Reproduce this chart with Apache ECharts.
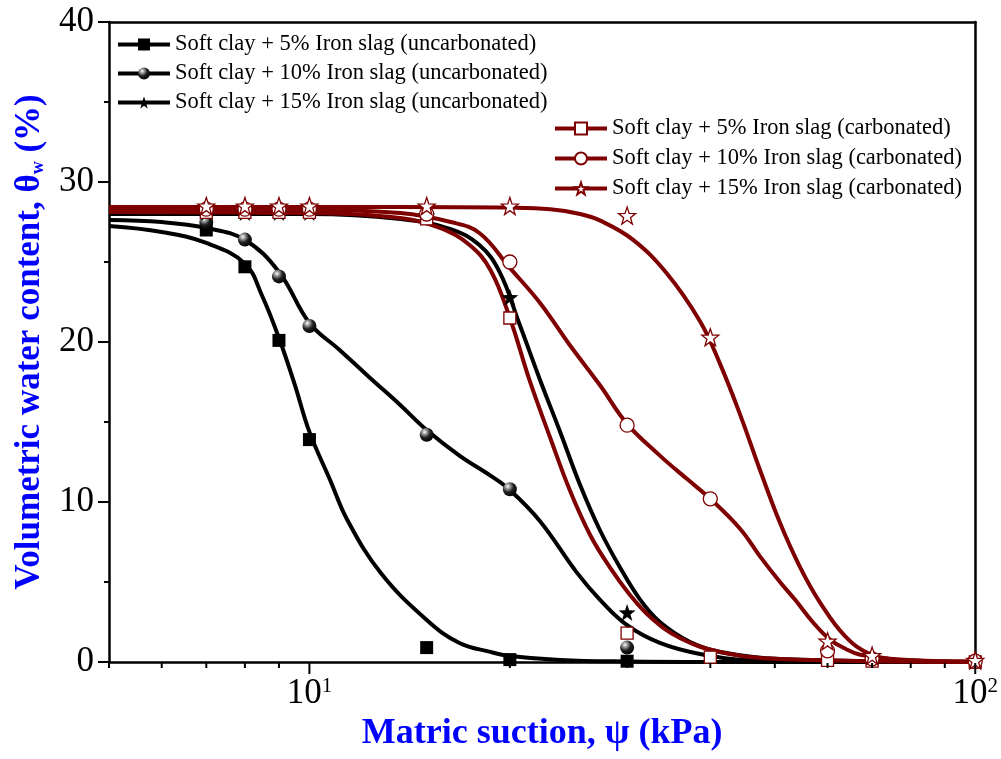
<!DOCTYPE html>
<html><head><meta charset="utf-8">
<script src="https://cdn.jsdelivr.net/npm/echarts@6/dist/echarts.min.js"></script>
<style>html,body{margin:0;padding:0;background:#fff}#c{width:1001px;height:759px}</style>
</head><body><div id="c"></div>
<script>
// ---- names ----
const seriesNames = [
  'Soft clay + 5% Iron slag (uncarbonated)',
  'Soft clay + 10% Iron slag (uncarbonated)',
  'Soft clay + 15% Iron slag (uncarbonated)',
  'Soft clay + 5% Iron slag (carbonated)',
  'Soft clay + 10% Iron slag (carbonated)',
  'Soft clay + 15% Iron slag (carbonated)'
];
// ---- measured points [suction kPa, water content %] ----
const sq5uPoints = [[7,27.0],[8,24.7],[9,20.1],[10,13.9],[15,0.9],[20,0.15],[30,0.05]];
const sp10uPoints = [[7,27.5],[8,26.4],[9,24.1],[10,21.0],[15,14.2],[20,10.8],[30,0.9]];
const st15uPoints = [[7,28.1],[8,28.1],[9,28.1],[10,28.1],[15,27.9],[20,22.8],[30,3.1]];
const sq5cPoints = [[7,28.1],[8,28.1],[9,28.1],[10,28.1],[15,27.7],[20,21.5],[30,1.8],[40,0.3],[60,0.1],[70,0.05],[100,0.0]];
const ci10cPoints = [[7,28.3],[8,28.3],[9,28.3],[10,28.3],[15,28.0],[20,25.0],[30,14.8],[40,10.2],[60,0.7],[70,0.2],[100,0.05]];
const st15cPoints = [[7,28.5],[8,28.5],[9,28.5],[10,28.5],[15,28.5],[20,28.5],[30,27.9],[40,20.3],[60,1.3],[70,0.4],[100,0.1]];
// ---- fitted curves ----
const sq5uCurve = [[5,27.25],[6,26.88],[7,26.19],[8,24.9],[8.48,22.94],[9,20.25],[9.51,17.31],[10,14.38],[10.74,11.38],[11.4,8.88],[12.8,5.56],[15,2.63],[16.8,1.19],[18.7,0.63],[20,0.38],[23.8,0.13],[30,0.03],[40,0],[100,0]];
const sp10uCurve = [[5,27.63],[6,27.5],[7,27.13],[8,26.38],[9,24.38],[10,21.19],[11.1,19.5],[12.3,17.8],[13.7,16.05],[15,14.5],[16.8,12.9],[18.7,11.65],[20,10.75],[22.2,8.8],[25.2,5.6],[27.3,3.9],[30,2.3],[33.6,1.19],[38.6,0.5],[45.9,0.13],[100,0]];
const st15uCurve = [[5,28.0],[10,28.0],[13.7,27.69],[16.3,27.06],[18.0,26.06],[19.3,24.38],[20.7,21.06],[22.2,17.63],[23.8,14.38],[25.5,11.06],[27.3,8.25],[29.3,5.88],[31.4,3.88],[33.6,2.5],[37.3,1.25],[41.4,0.63],[50.9,0.19],[100,0]];
const sq5cCurve = [[5,28.13],[10,28.06],[13.7,27.75],[15.7,27.13],[17.4,26.06],[18.7,24.5],[20,21.5],[21.4,17.63],[23,14.0],[24.6,10.75],[26.4,7.94],[28.3,5.88],[30.3,4.19],[32.5,2.81],[36,1.5],[41.4,0.63],[50.9,0.19],[100,0]];
const ci10cCurve = [[5,28.25],[10,28.25],[13.7,28.06],[16.3,27.5],[18,26.81],[20,24.63],[22.2,22.44],[24.6,19.81],[27.3,17.31],[30,14.88],[33.6,12.9],[37,11.4],[40,10.2],[44.4,8.3],[47.5,6.6],[50.9,5.0],[53.6,3.9],[57,2.5],[60.5,1.4],[64,0.8],[67.2,0.45],[77.2,0.13],[100,0.03]];
const st15cCurve = [[5,28.44],[13.7,28.44],[20,28.4],[23,28.3],[25.5,28.0],[27.3,27.6],[30.6,26.4],[34.4,24.3],[38.6,21.3],[41.4,18.6],[44.4,15.4],[47.5,12.0],[50.9,8.7],[54.6,5.9],[58.5,3.7],[63.8,1.6],[69.5,0.5],[77.2,0.15],[100,0.03]];
// ---- axis ticks ----
const xMajorTicks = [10, 100];
const xMajorExponents = ['1', '2'];
const xMinorTicks = [5, 6, 7, 8, 9, 20, 30, 40, 50, 60, 70, 80, 90];

const FONT = '"Liberation Serif","Times New Roman",serif';
const BLACK = '#000000';
const RED = '#7f0000';
const STAR = 'path://M0,-10 L2.35,-3.24 L9.51,-3.09 L3.8,1.24 L5.88,8.09 L0,4 L-5.88,8.09 L-3.8,1.24 L-9.51,-3.09 L-2.35,-3.24 Z';

const sphere = new echarts.graphic.RadialGradient(0.35, 0.3, 0.75, [
  {offset: 0, color: '#ffffff'}, {offset: 0.22, color: '#a0a0a0'},
  {offset: 0.55, color: '#202020'}, {offset: 1, color: '#000000'}]);

const styles = [
  {symbol: 'rect', size: 13, item: {color: BLACK, opacity: 1}, line: BLACK},
  {symbol: 'circle', size: 14, item: {color: sphere, opacity: 1}, line: BLACK},
  {symbol: STAR, size: 17, item: {color: BLACK, opacity: 1}, line: BLACK},
  {symbol: 'rect', size: 12, item: {color: '#ffffff', borderColor: RED, borderWidth: 1.3, opacity: 1}, line: RED},
  {symbol: 'circle', size: 14, item: {color: '#ffffff', borderColor: RED, borderWidth: 1.3, opacity: 1}, line: RED},
  {symbol: STAR, size: 17, item: {color: '#ffffff', borderColor: RED, borderWidth: 1.3, opacity: 1}, line: RED}
];
const curves = [sq5uCurve, sp10uCurve, st15uCurve, sq5cCurve, ci10cCurve, st15cCurve];
const points = [sq5uPoints, sp10uPoints, st15uPoints, sq5cPoints, ci10cPoints, st15cPoints];

const series = [];
curves.forEach((c, i) => {
  const s = styles[i];
  series.push({
    type: 'line', name: seriesNames[i], data: c, smooth: 0.4,
    showSymbol: false, symbol: s.symbol, symbolSize: s.size, itemStyle: s.item,
    lineStyle: {color: s.line, width: 4}, z: 2, silent: true, animation: false
  });
});
points.forEach((p, i) => {
  const s = styles[i];
  series.push({
    type: 'scatter', name: seriesNames[i], data: p, symbol: s.symbol, symbolSize: s.size,
    itemStyle: s.item, z: 3, silent: true, animation: false
  });
});
// x-axis ticks on the log axis
series.push({type: 'scatter', data: xMinorTicks.map(v => [v, 0]), symbol: 'rect', symbolSize: [2, 5],
  symbolOffset: [0, 3.5], itemStyle: {color: BLACK, opacity: 1}, silent: true, z: 6, clip: false, animation: false});
series.push({type: 'scatter', data: xMajorTicks.map(v => [v, 0]), symbol: 'rect', symbolSize: [2, 11],
  symbolOffset: [0, 6.5], itemStyle: {color: BLACK, opacity: 1}, silent: true, z: 6, clip: false, animation: false});

const legendText = {fontFamily: FONT, fontSize: 22.5, color: '#000'};
const legendData = names => names.map(n => {
  const i = seriesNames.indexOf(n);
  return {name: n, lineStyle: {color: styles[i].line, width: 4}};
});
const chart = echarts.init(document.getElementById('c'), null, {renderer: 'canvas'});
chart.setOption({
  animation: false,
  backgroundColor: '#ffffff',
  grid: {left: 109, right: 25, top: 22, bottom: 97, containLabel: false},
  legend: [
    {data: legendData(seriesNames.slice(0, 3)), left: 116, top: 33, orient: 'vertical', padding: 0,
     itemWidth: 52, itemHeight: 15, itemGap: 6, textStyle: legendText, selectedMode: false,
     lineStyle: {width: 4}},
    {data: legendData(seriesNames.slice(3)), left: 553, top: 117, orient: 'vertical', padding: 0,
     itemWidth: 52, itemHeight: 15, itemGap: 7, textStyle: legendText, selectedMode: false,
     lineStyle: {width: 4}}
  ],
  xAxis: [{
    type: 'log', logBase: 10, min: 5, max: 100,
    axisLine: {show: true, onZero: false, lineStyle: {color: BLACK, width: 2.5}},
    axisTick: {show: false}, minorTick: {show: false}, splitLine: {show: false},
    axisLabel: {
      margin: 14, color: '#000',
      formatter: v => {
        const k = xMajorTicks.indexOf(Math.round(v));
        return k < 0 ? '' : '{m|10}{e|' + xMajorExponents[k] + '}';
      },
      rich: {
        m: {fontFamily: FONT, fontSize: 35, color: '#000', verticalAlign: 'bottom'},
        e: {fontFamily: FONT, fontSize: 21, color: '#000', verticalAlign: 'top'}
      }
    },
    name: 'Matric suction, ψ (kPa)', nameLocation: 'middle', nameGap: 52,
    nameTextStyle: {fontFamily: FONT, fontWeight: 'bold', fontSize: 36, color: '#0000ff'}
  }, {
    type: 'log', logBase: 10, min: 5, max: 100, position: 'top',
    axisLine: {show: true, onZero: false, lineStyle: {color: BLACK, width: 2.5}},
    axisTick: {show: false}, axisLabel: {show: false}, splitLine: {show: false}
  }],
  yAxis: [{
    type: 'value', min: 0, max: 40, interval: 10,
    axisLine: {show: true, onZero: false, lineStyle: {color: BLACK, width: 2.5}},
    axisTick: {show: true, inside: false, length: 11, lineStyle: {color: BLACK, width: 2}},
    minorTick: {show: true, splitNumber: 2, length: 5, lineStyle: {color: BLACK, width: 2}},
    splitLine: {show: false},
    axisLabel: {fontFamily: FONT, fontSize: 35, color: '#000', margin: 15},
    name: 'Volumetric water content, θ{s|w} (%)', nameLocation: 'middle', nameGap: 62,
    nameTextStyle: {fontFamily: FONT, fontWeight: 'bold', fontSize: 35, color: '#0000ff',
      rich: {s: {fontFamily: FONT, fontWeight: 'bold', fontSize: 18, color: '#0000ff', verticalAlign: 'bottom'}}}
  }, {
    type: 'value', min: 0, max: 40, interval: 10, position: 'right',
    axisLine: {show: true, onZero: false, lineStyle: {color: BLACK, width: 2.5}},
    axisTick: {show: false}, axisLabel: {show: false}, splitLine: {show: false}
  }],
  series: series
});
</script>
</body></html>
